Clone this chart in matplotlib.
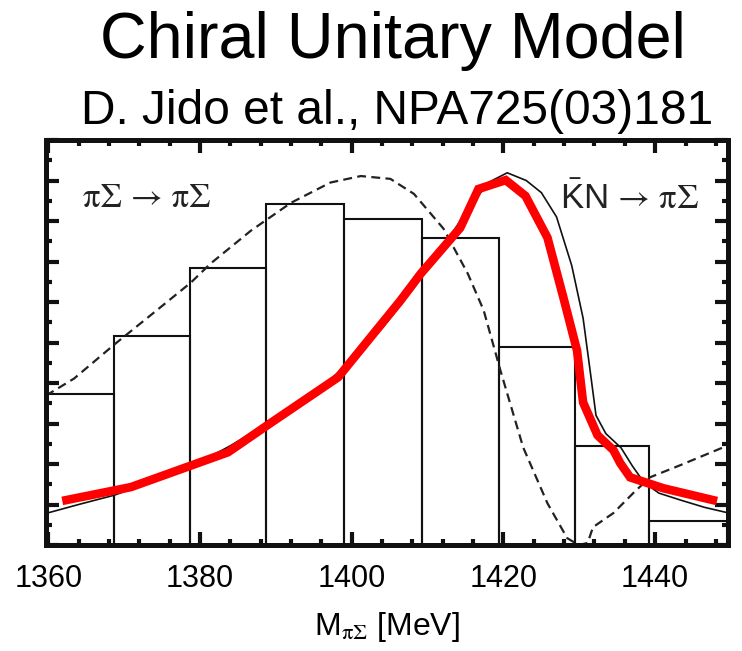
import matplotlib.pyplot as plt
import numpy as np
from matplotlib.ticker import MultipleLocator

# histogram bin edges (MeV) and heights - arbitrary units
bin_edges = [1358.7, 1368.7, 1378.7, 1388.7, 1399.0, 1409.3, 1419.4, 1429.4, 1439.2, 1449.5]
bin_height = [3.74, 5.17, 6.85, 8.42, 8.05, 7.59, 4.88, 2.44, 0.59]

# pi Sigma -> pi Sigma (dashed)
pipi_m = [1359.7, 1363.4, 1368.9, 1374.0, 1378.8, 1381.4, 1386.7, 1392.0, 1397.2,
          1401.2, 1405.1, 1408.2, 1412.1, 1415.3, 1417.4, 1419.6, 1422.6, 1425.8,
          1428.4, 1429.9, 1431.1, 1431.8, 1434.5, 1437.1, 1439.3, 1443.3, 1449.6]
pipi_y = [3.69, 4.11, 4.98, 5.75, 6.48, 6.95, 7.76, 8.45, 8.95,
          9.11, 9.04, 8.67, 7.81, 6.70, 5.79, 4.31, 2.41, 1.03,
          0.17, 0.0, 0.05, 0.44, 0.79, 1.28, 1.67, 1.97, 2.46]

# Kbar N -> pi Sigma (thin solid)
kn_m = [1359.7, 1364, 1368.7, 1372, 1376, 1380, 1384, 1388, 1392, 1396, 1400,
        1404, 1408, 1412, 1415, 1418, 1420.5, 1423, 1425, 1427, 1429, 1430.5,
        1431.5, 1432.2, 1433.5, 1435.5, 1437, 1438.5, 1440.5, 1443.5, 1446.5, 1449.7]
kn_y = [0.78, 1.0, 1.23, 1.45, 1.75, 2.05, 2.45, 2.9, 3.4, 3.9, 4.55,
        5.35, 6.3, 7.35, 8.2, 8.95, 9.19, 9.0, 8.7, 8.1, 6.9, 5.6,
        4.2, 3.2, 2.75, 2.4, 1.95, 1.55, 1.28, 1.1, 0.93, 0.79]

# red overlay
red_m = [1362.4, 1370.9, 1383.7, 1388.9, 1398.2, 1406.4, 1409.1, 1414.3, 1416.7,
         1420.3, 1422.9, 1425.8, 1427.9, 1429.7, 1430.5, 1432.4, 1434.5, 1435.4,
         1436.7, 1441.1, 1447.6]
red_y = [1.11, 1.43, 2.29, 2.96, 4.14, 6.03, 6.70, 7.83, 8.79,
         9.01, 8.62, 7.59, 6.11, 4.80, 3.52, 2.71, 2.34, 2.02,
         1.67, 1.40, 1.11]

plt.rcParams['mathtext.fontset'] = 'custom'
plt.rcParams['mathtext.rm'] = 'STIXGeneral'
plt.rcParams['mathtext.it'] = 'STIXGeneral:italic'
plt.rcParams['mathtext.sf'] = 'Liberation Sans'
plt.rcParams['mathtext.fallback'] = 'stix'
plt.rcParams['font.family'] = ['Liberation Sans', 'DejaVu Sans']

fig = plt.figure(figsize=(7.42, 6.51), dpi=100)
ax = fig.add_axes([46 / 742, 106 / 651, 682 / 742, 405 / 651])

edges = np.array(bin_edges)
ax.bar(edges[:-1], bin_height, width=np.diff(edges), align='edge', fill=False,
       edgecolor='#111111', linewidth=1.5, zorder=1)
ax.plot(pipi_m, pipi_y, color='#222222', lw=1.6, ls=(0, (4, 2.4)), zorder=2)
ax.plot(kn_m, kn_y, color='#111111', lw=1.2, zorder=3)
ax.plot(red_m, red_y, color='#ff0000', lw=6.2, solid_joinstyle='miter', zorder=4)

ax.set_xlim(1359.7, 1449.6)
ax.set_ylim(0, 10)
ax.xaxis.set_major_locator(MultipleLocator(20))
ax.xaxis.set_minor_locator(MultipleLocator(4))
ax.yaxis.set_major_locator(MultipleLocator(1))
ax.yaxis.set_minor_locator(MultipleLocator(0.5))
ax.tick_params(which='both', direction='in', top=True, right=True,
               labelleft=False, color='#111111')
ax.tick_params(which='major', length=9.5, width=3, labelsize=22, pad=14)
ax.tick_params(which='minor', length=4.5, width=3)
for s in ax.spines.values():
    s.set_linewidth(3.6)
    s.set_color('#111111')

ax.set_xlabel(r'M$_{\mathrm{\pi\Sigma}}$ [MeV]', fontsize=23, labelpad=11)

ax.text(0.054, 0.855, 'πΣ → πΣ', transform=ax.transAxes, family='STIXGeneral',
        fontsize=25, color='#222222', va='center')
ax.text(0.958, 0.855, r'$\bar{\mathsf{K}}\mathsf{N}\,\rightarrow\,\mathrm{\pi\Sigma}$',
        transform=ax.transAxes, fontsize=25, color='#222222', va='center', ha='right')

fig.text(393 / 742, 1 - 58 / 651, 'Chiral Unitary Model', ha='center', va='baseline',
         fontsize=46.5)
fig.text(397 / 742, 1 - 124 / 651, 'D. Jido et al., NPA725(03)181', ha='center',
         va='baseline', fontsize=34.5)

fig.savefig('out.png', dpi=100)
